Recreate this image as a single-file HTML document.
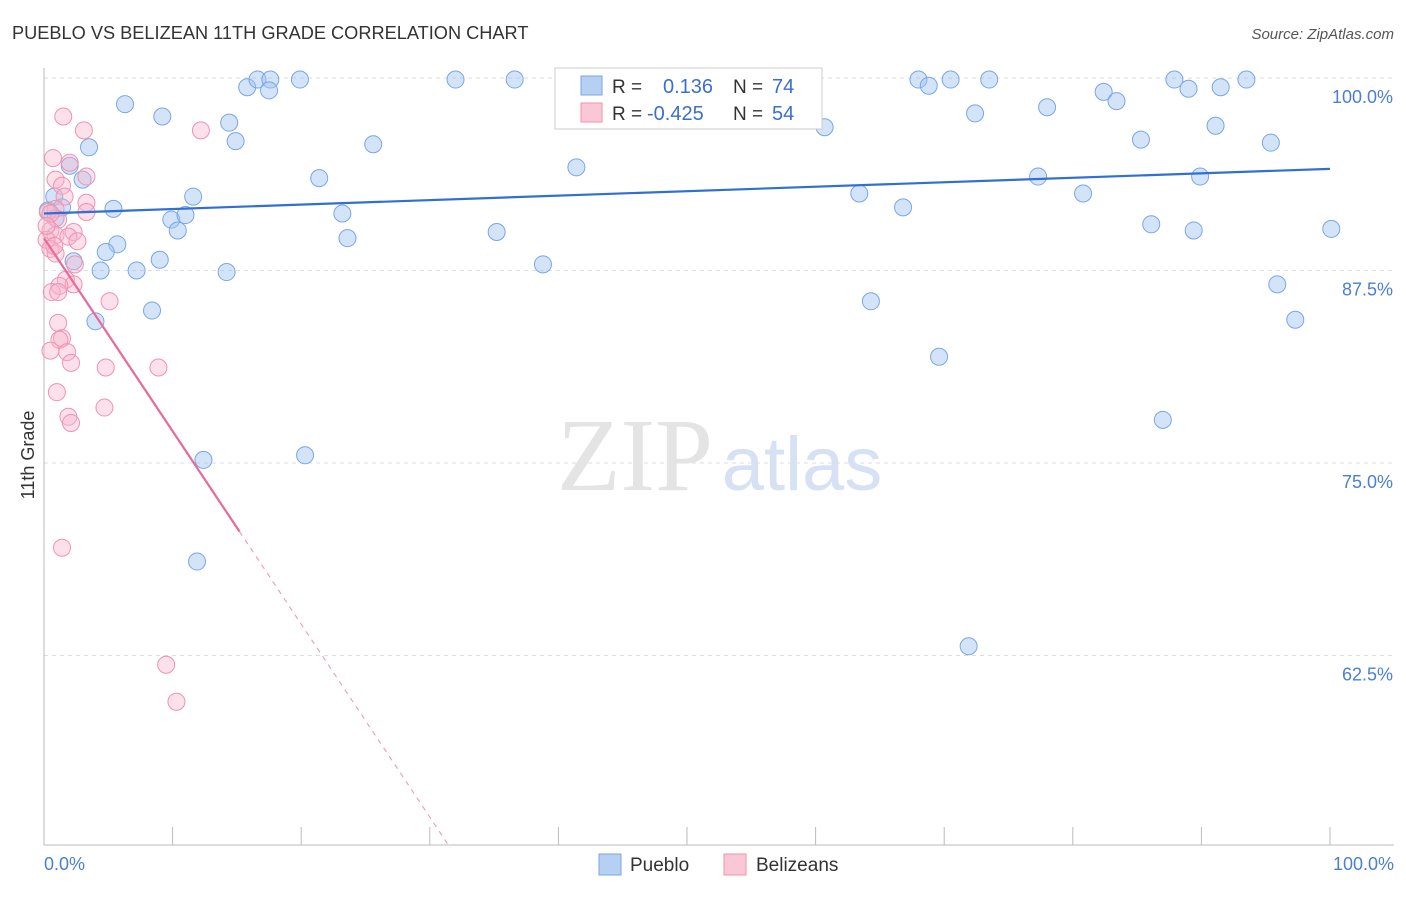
<!DOCTYPE html>
<html><head><meta charset="utf-8"><style>
body{margin:0;background:#fff;font-family:"Liberation Sans",sans-serif;}
svg text{font-family:"Liberation Sans",sans-serif;}
</style></head><body>
<svg width="1406" height="892" xmlns="http://www.w3.org/2000/svg" id="chart">
<text x="12" y="39" font-size="18.2" fill="#333">PUEBLO VS BELIZEAN 11TH GRADE CORRELATION CHART</text>
<text x="1394" y="39" font-size="15" fill="#555" font-style="italic" text-anchor="end">Source: ZipAtlas.com</text>
<g id="grid"></g>
<text x="635" y="490" font-size="104" fill="#e4e4e4" text-anchor="middle" style="font-family:'Liberation Serif',serif">ZIP</text>
<text x="802" y="490" font-size="76" fill="#d6e2f3" text-anchor="middle">atlas</text>
<text x="34" y="455" font-size="18" fill="#333" text-anchor="middle" transform="rotate(-90 34 455)">11th Grade</text>
<text x="44" y="870" font-size="18" fill="#4a7fd4">0.0%</text>
<text x="1394" y="870" font-size="18" fill="#4a7fd4" text-anchor="end">100.0%</text>
<g id="points"></g>
<g id="lines"></g>
<g>
<rect x="555" y="68" width="267" height="61" fill="#fff" stroke="#ccc"/>
<rect x="581" y="76" width="21" height="19" fill="#b5d0f3" stroke="#7aa6e6"/>
<rect x="581" y="103" width="21" height="19" fill="#fac7d6" stroke="#ef93b0"/>
<text x="612" y="93" font-size="19" fill="#333">R =</text>
<text x="663" y="93" font-size="20" fill="#3a6fd0">0.136</text>
<text x="733" y="93" font-size="19" fill="#333">N =</text>
<text x="772" y="93" font-size="20" fill="#3a6fd0">74</text>
<text x="612" y="120" font-size="19" fill="#333">R =</text>
<text x="647" y="120" font-size="20" fill="#3a6fd0">-0.425</text>
<text x="733" y="120" font-size="19" fill="#333">N =</text>
<text x="772" y="120" font-size="20" fill="#3a6fd0">54</text>
</g>
<g>
<rect x="599" y="854" width="22" height="21" fill="#b5d0f3" stroke="#7aa6e6"/>
<text x="630" y="871" font-size="19" fill="#333">Pueblo</text>
<rect x="724" y="854" width="22" height="21" fill="#fac7d6" stroke="#ef93b0"/>
<text x="756" y="871" font-size="19" fill="#333">Belizeans</text>
</g>
</svg>
<script>
const yTicks=[100,87.5,75,62.5];
const yTickLabels=["100.0%","87.5%","75.0%","62.5%"];
const xTicks=[0,10,20,30,40,50,60,70,80,90,100];
const puebloX=[6.3,9.2,3.5,2.0,3.0,0.8,5.4,1.4,0.3,9.9,11.0,10.4,11.6,14.4,14.9,15.8,16.6,17.6,17.5,19.9,21.4,23.2,23.6,25.6,32.0,36.6,35.2,38.8,41.4,45.7,47.0,60.7,63.4,66.8,64.3,69.6,68.0,68.8,70.5,72.4,73.5,77.3,78.0,80.8,82.4,83.4,85.3,86.1,87.9,89.0,89.9,89.4,91.1,91.5,93.5,95.4,95.9,97.3,100.1,87.0,71.9,7.2,9.0,5.7,4.8,4.4,2.3,4.0,8.4,14.2,12.4,20.3,11.9,0.9];
const puebloY=[98.3,97.5,95.5,94.3,93.4,92.3,91.5,91.6,91.4,90.8,91.1,90.1,92.3,97.1,95.9,99.4,99.9,99.9,99.2,99.9,93.5,91.2,89.6,95.7,99.9,99.9,90.0,87.9,94.2,99.9,99.9,96.8,92.5,91.6,85.5,81.9,99.9,99.5,99.9,97.7,99.9,93.6,98.1,92.5,99.1,98.5,96.0,90.5,99.9,99.3,93.6,90.1,96.9,99.4,99.9,95.8,86.6,84.3,90.2,77.8,63.1,87.5,88.2,89.2,88.7,87.5,88.1,84.2,84.9,87.4,75.2,75.5,68.6,90.9];
const belizeX=[1.5,3.1,12.2,0.7,2.0,0.9,1.4,3.3,1.6,3.3,0.9,0.3,3.3,1.1,0.5,2.3,0.9,1.9,0.2,2.6,0.5,0.9,2.4,1.7,2.3,1.2,0.6,1.1,5.1,1.1,1.4,1.2,0.5,1.8,2.1,4.8,8.9,1.0,1.9,2.1,4.7,1.4,9.5,10.3,0.5,0.2,0.8];
const belizeY=[97.5,96.6,96.6,94.8,94.5,93.4,93.0,93.6,92.3,91.9,91.5,91.3,91.3,90.8,90.1,90.0,89.8,89.7,89.5,89.4,88.9,88.6,87.9,86.9,86.6,86.5,86.1,86.1,85.5,84.1,83.1,83.0,82.3,82.2,81.5,81.2,81.2,79.6,78.0,77.6,78.6,69.5,61.9,59.5,91.2,90.4,89.1];
const blueFit=[91.2,94.1];
const pinkFit=[89.6,50.0];const pinkSolidEnd=15.2;const pinkZero=31.6;
const L=44,R=1330,T=78,S=15.4;
const xs=v=>L+(R-L)*v/100;
const ys=v=>T+(100-v)*S;
const ns="http://www.w3.org/2000/svg";
function mk(tag,attrs,parent){const e=document.createElementNS(ns,tag);for(const k in attrs)e.setAttribute(k,attrs[k]);parent.appendChild(e);return e;}
const grid=document.getElementById('grid');
yTicks.forEach((v,i)=>{
 const l=mk('line',{x1:L,x2:1394,y1:ys(v),y2:ys(v),stroke:'#ddd','stroke-dasharray':'4,4'},grid);
 
 
 const t=mk('text',{x:1393,y:ys(v)+25,'font-size':18,fill:'#4a7fd4','text-anchor':'end'},grid);
 t.textContent=yTickLabels[i];
 
 
});
const ax=mk('line',{x1:L,x2:L,y1:68,y2:845,stroke:'#bbb'},grid);


const bx=mk('line',{x1:L,x2:1394,y1:845,y2:845,stroke:'#bbb'},grid);


xTicks.forEach(v=>{const t=mk('line',{x1:xs(v),x2:xs(v),y1:827,y2:845,stroke:'#bbb'},grid);
 
 });
const pts=document.getElementById('points');
puebloX.forEach((x,i)=>{const c=mk('circle',{cx:xs(x),cy:ys(puebloY[i]),r:8.5,fill:'rgba(160,196,240,0.45)',stroke:'#7aa6e6','stroke-width':1},pts);
 
 });
belizeX.forEach((x,i)=>{const c=mk('circle',{cx:xs(x),cy:ys(belizeY[i]),r:8.5,fill:'rgba(248,180,202,0.4)',stroke:'#ef93b0','stroke-width':1},pts);
 
 });
const lines=document.getElementById('lines');
const b=mk('line',{x1:xs(0),y1:ys(blueFit[0]),x2:xs(100),y2:ys(blueFit[1]),stroke:'#2f6fd6','stroke-width':2.2},lines);


const py=x=>pinkFit[0]+(pinkFit[1]-pinkFit[0])*x/pinkZero;
const p1=mk('line',{x1:xs(0),y1:ys(py(0)),x2:xs(pinkSolidEnd),y2:ys(py(pinkSolidEnd)),stroke:'#e8699a','stroke-width':2.2},lines);


const p2=mk('line',{x1:xs(pinkSolidEnd),y1:ys(py(pinkSolidEnd)),x2:xs(pinkZero),y2:ys(py(pinkZero)),stroke:'#eea0bb','stroke-width':1.2,'stroke-dasharray':'5,5'},lines);


</script>
</body></html>
